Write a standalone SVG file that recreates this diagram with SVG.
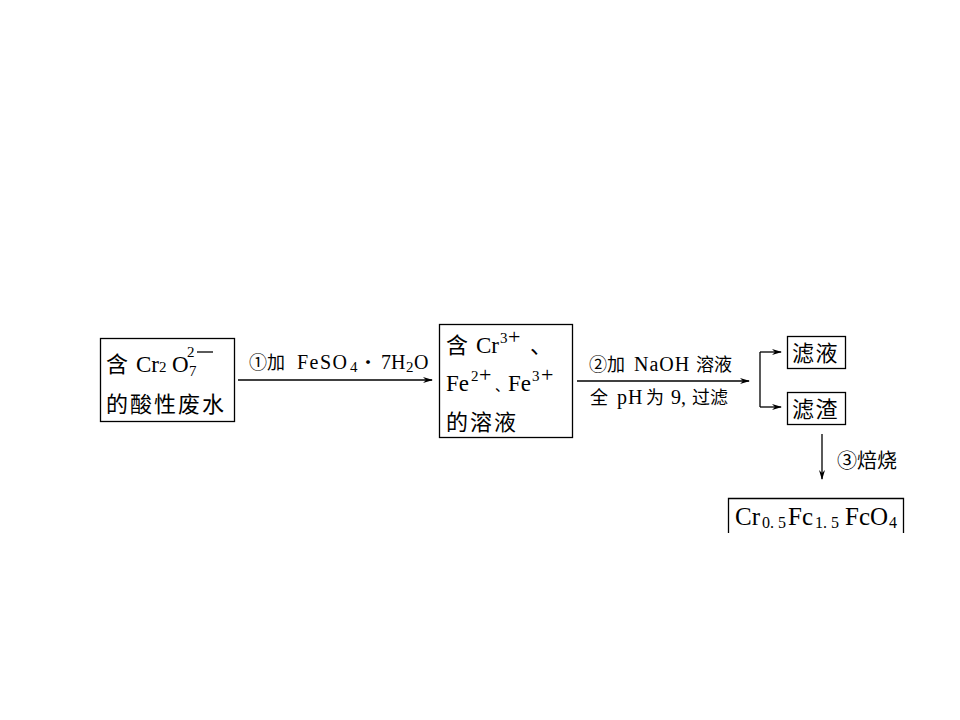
<svg xmlns="http://www.w3.org/2000/svg" width="960" height="720" viewBox="0 0 960 720">
<style>
.box{fill:none;stroke:#000;stroke-width:1.3}
.ln{fill:none;stroke:#000;stroke-width:1.3}
.t{font-family:"Liberation Serif","Noto Sans CJK SC",serif;fill:#000}
.cn{font-family:"Noto Sans CJK SC",sans-serif;fill:#000}
.big{font-size:23px}
.cb{font-size:22px;letter-spacing:2px}
.sm{font-size:20px}
.csm{font-size:18px}
.sub{font-size:15px}
</style>
<defs>
<marker id="ah" markerWidth="10" markerHeight="8" refX="9" refY="4" orient="auto" markerUnits="userSpaceOnUse">
<path d="M0,1 L10,4 L0,7 L3,4 Z" fill="#000"/>
</marker>
</defs>
<rect width="960" height="720" fill="#fff"/>

<g id="connectors">
<line class="ln" x1="238" y1="380" x2="432" y2="380" marker-end="url(#ah)"/>
<line class="ln" x1="577" y1="381" x2="749" y2="381" marker-end="url(#ah)"/>
<path class="ln" d="M760,352 L760,407"/>
<line class="ln" x1="760" y1="352" x2="781" y2="352" marker-end="url(#ah)"/>
<line class="ln" x1="760" y1="407" x2="781" y2="407" marker-end="url(#ah)"/>
<line class="ln" x1="822" y1="434" x2="822" y2="479" marker-end="url(#ah)" stroke="#2a4a6a"/>
<g id="label-step1">
<text class="cn csm" x="249" y="369">①加</text>
<text class="t sm" x="297" y="369" letter-spacing="1.5">FeSO</text>
<text class="t sub" x="350" y="372">4</text>
<text class="cn csm" x="359" y="369">・</text>
<text class="t sm" x="381" y="369">7</text>
<text class="t sm" x="391" y="369">H</text>
<text class="t sub" x="406" y="372">2</text>
<text class="t sm" x="414" y="369">O</text>
</g>
<g id="label-step2">
<text class="cn csm" x="589" y="371">②加</text>
<text class="t sm" x="634" y="371" letter-spacing="1">NaOH</text>
<text class="cn csm" x="696" y="371">溶液</text>
<text class="cn csm" x="590" y="404">全</text>
<text class="t sm" x="617" y="404" letter-spacing="1">pH</text>
<text class="cn csm" x="646" y="404">为</text>
<text class="t sm" x="671" y="404">9</text>
<text class="t sm" x="681" y="404">,</text>
<text class="cn csm" x="692" y="404">过滤</text>
</g>
<text class="cn" font-size="20" x="837" y="468">③焙烧</text>
</g>

<g id="node-wastewater">
<rect class="box" x="100.5" y="338.5" width="134" height="83"/>
<text class="cn cb" x="106" y="372">含</text>
<text class="t big" x="136" y="372">Cr</text>
<text class="t sub" x="159" y="372">2</text>
<text class="t big" x="172" y="372">O</text>
<text class="t sub" x="189" y="376">7</text>
<text class="t sub" x="187" y="357">2</text>
<line x1="197" y1="352" x2="213" y2="352" stroke="#000" stroke-width="1.3"/>
<text class="cn cb" x="106" y="412">的酸性废水</text>
</g>

<g id="node-solution">
<rect class="box" x="439.5" y="324.5" width="133" height="113"/>
<text class="cn cb" x="446" y="353">含</text>
<text class="t big" x="476" y="353">Cr</text>
<text class="t sub" x="500" y="343">3</text>
<text class="t" font-size="22" x="508" y="344">+</text>
<text class="cn cb" x="530" y="353">、</text>
<text class="t big" x="446" y="391">Fe</text>
<text class="t sub" x="471" y="381">2</text>
<text class="t" font-size="22" x="479" y="382">+</text>
<text class="cn" font-size="14" x="495" y="391">、</text>
<text class="t big" x="508" y="391">Fe</text>
<text class="t sub" x="532" y="381">3</text>
<text class="t" font-size="22" x="541" y="382">+</text>
<text class="cn cb" x="446" y="430">的溶液</text>
</g>

<g id="node-filtrate">
<rect class="box" x="787.5" y="336.5" width="58" height="32"/>
<text class="cn" font-size="22" letter-spacing="1.5" x="792" y="361">滤液</text>
</g>

<g id="node-residue">
<rect class="box" x="787.5" y="392.5" width="58" height="32"/>
<text class="cn" font-size="22" letter-spacing="1.5" x="792" y="417">滤渣</text>
</g>

<g id="node-product">
<path class="ln" d="M728.5,533 L728.5,498.5 L903.5,498.5 L903.5,533"/>
<text class="t" font-size="25" x="735" y="525">Cr</text>
<text class="t" x="762" y="528" font-size="16">0. 5</text>
<text class="t" font-size="25" x="788" y="525">Fc</text>
<text class="t" x="815" y="528" font-size="16">1. 5</text>
<text class="t" font-size="25" x="845" y="525">FcO</text>
<text class="t" x="889" y="528" font-size="16">4</text>
</g>
</svg>
